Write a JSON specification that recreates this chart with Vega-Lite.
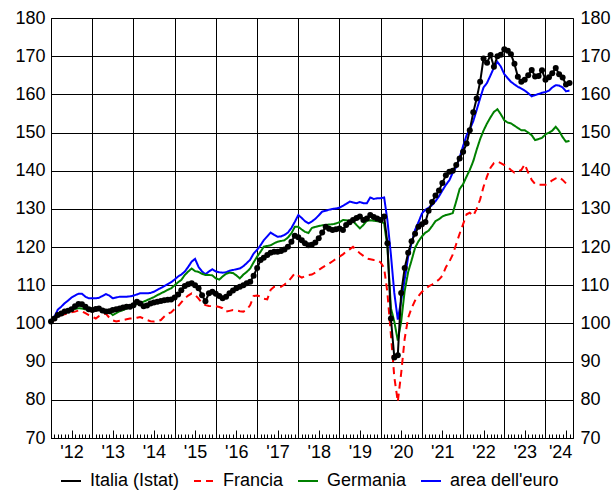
{
"$schema": "https://vega.github.io/schema/vega-lite/v6.json",
"width": 522, "height": 420,
"autosize": "none",
"padding": {"left": 51, "top": 18, "right": 43, "bottom": 55},
"background": "white",
"config": {
  "font": "Liberation Sans",
  "view": {"stroke": "black", "strokeWidth": 1},
  "axis": {"labelFont": "Liberation Sans", "labelFontSize": 18, "labelColor": "black", "domain": false, "gridColor": "black", "gridOpacity": 1, "gridWidth": 1, "tickColor": "black", "tickOpacity": 1, "tickWidth": 1}
},
"data": {"values": [
{"d":"2012-01","it":100.5,"fr":100.0,"de":100.3,"ea":100.0},
{"d":"2012-02","it":101.3,"fr":101.0,"de":101.5,"ea":101.8},
{"d":"2012-03","it":102.2,"fr":101.8,"de":102.5,"ea":103.6},
{"d":"2012-04","it":102.6,"fr":102.2,"de":102.8,"ea":104.4},
{"d":"2012-05","it":103.1,"fr":102.4,"de":103.2,"ea":105.3},
{"d":"2012-06","it":103.3,"fr":102.6,"de":103.5,"ea":106.0},
{"d":"2012-07","it":103.7,"fr":102.9,"de":103.6,"ea":106.8},
{"d":"2012-08","it":104.5,"fr":103.1,"de":103.8,"ea":107.3},
{"d":"2012-09","it":105.1,"fr":103.4,"de":104.0,"ea":107.8},
{"d":"2012-10","it":105.0,"fr":103.2,"de":103.9,"ea":107.8},
{"d":"2012-11","it":104.4,"fr":102.7,"de":103.7,"ea":107.0},
{"d":"2012-12","it":103.7,"fr":102.2,"de":103.5,"ea":106.6},
{"d":"2013-01","it":103.5,"fr":101.8,"de":103.5,"ea":106.6},
{"d":"2013-02","it":103.8,"fr":101.3,"de":103.6,"ea":106.6},
{"d":"2013-03","it":103.9,"fr":101.9,"de":103.7,"ea":106.7},
{"d":"2013-04","it":103.4,"fr":102.4,"de":103.5,"ea":107.2},
{"d":"2013-05","it":103.1,"fr":102.6,"de":103.3,"ea":107.7},
{"d":"2013-06","it":103.2,"fr":101.5,"de":103.1,"ea":107.3},
{"d":"2013-07","it":103.5,"fr":100.8,"de":102.2,"ea":106.6},
{"d":"2013-08","it":103.7,"fr":100.5,"de":102.7,"ea":106.8},
{"d":"2013-09","it":103.9,"fr":100.7,"de":103.2,"ea":107.0},
{"d":"2013-10","it":104.2,"fr":100.9,"de":103.5,"ea":107.0},
{"d":"2013-11","it":104.4,"fr":101.1,"de":103.9,"ea":107.0},
{"d":"2013-12","it":104.4,"fr":101.3,"de":104.3,"ea":107.1},
{"d":"2014-01","it":104.8,"fr":101.3,"de":104.8,"ea":107.3},
{"d":"2014-02","it":105.7,"fr":101.5,"de":105.1,"ea":107.6},
{"d":"2014-03","it":105.2,"fr":101.7,"de":105.4,"ea":107.9},
{"d":"2014-04","it":104.5,"fr":101.3,"de":105.7,"ea":107.9},
{"d":"2014-05","it":104.7,"fr":100.9,"de":106.1,"ea":107.9},
{"d":"2014-06","it":105.2,"fr":100.6,"de":106.5,"ea":108.0},
{"d":"2014-07","it":105.5,"fr":100.5,"de":106.9,"ea":108.3},
{"d":"2014-08","it":105.7,"fr":100.6,"de":107.4,"ea":108.8},
{"d":"2014-09","it":105.9,"fr":100.9,"de":107.9,"ea":109.3},
{"d":"2014-10","it":106.1,"fr":101.8,"de":108.3,"ea":109.8},
{"d":"2014-11","it":106.2,"fr":102.6,"de":108.8,"ea":110.3},
{"d":"2014-12","it":106.3,"fr":102.9,"de":109.2,"ea":110.8},
{"d":"2015-01","it":106.8,"fr":103.8,"de":110.0,"ea":111.5},
{"d":"2015-02","it":107.6,"fr":104.5,"de":110.8,"ea":112.3},
{"d":"2015-03","it":108.7,"fr":105.5,"de":111.4,"ea":112.8},
{"d":"2015-04","it":109.8,"fr":106.6,"de":112.7,"ea":113.6},
{"d":"2015-05","it":110.3,"fr":107.3,"de":113.6,"ea":114.8},
{"d":"2015-06","it":110.5,"fr":107.9,"de":114.4,"ea":116.2},
{"d":"2015-07","it":110.0,"fr":107.5,"de":113.7,"ea":116.9},
{"d":"2015-08","it":109.2,"fr":106.5,"de":113.5,"ea":114.8},
{"d":"2015-09","it":107.4,"fr":105.3,"de":113.0,"ea":113.6},
{"d":"2015-10","it":105.8,"fr":104.8,"de":112.7,"ea":112.9},
{"d":"2015-11","it":107.9,"fr":104.6,"de":112.7,"ea":113.6},
{"d":"2015-12","it":108.3,"fr":104.5,"de":112.6,"ea":114.2},
{"d":"2016-01","it":107.8,"fr":104.5,"de":111.8,"ea":113.6},
{"d":"2016-02","it":107.2,"fr":104.3,"de":111.5,"ea":113.4},
{"d":"2016-03","it":106.6,"fr":104.0,"de":112.3,"ea":113.3},
{"d":"2016-04","it":107.0,"fr":103.1,"de":113.0,"ea":113.4},
{"d":"2016-05","it":107.9,"fr":103.3,"de":113.3,"ea":113.8},
{"d":"2016-06","it":108.6,"fr":103.5,"de":113.2,"ea":114.0},
{"d":"2016-07","it":109.2,"fr":103.4,"de":112.6,"ea":114.2},
{"d":"2016-08","it":109.6,"fr":103.2,"de":111.8,"ea":114.4},
{"d":"2016-09","it":110.0,"fr":103.1,"de":112.8,"ea":115.0},
{"d":"2016-10","it":110.5,"fr":103.6,"de":113.5,"ea":115.8},
{"d":"2016-11","it":110.9,"fr":104.8,"de":114.4,"ea":116.7},
{"d":"2016-12","it":112.5,"fr":107.2,"de":116.0,"ea":118.3},
{"d":"2017-01","it":114.5,"fr":107.3,"de":117.5,"ea":119.3},
{"d":"2017-02","it":116.6,"fr":107.1,"de":118.8,"ea":120.5},
{"d":"2017-03","it":117.2,"fr":106.5,"de":120.1,"ea":121.8},
{"d":"2017-04","it":117.9,"fr":106.3,"de":120.3,"ea":122.8},
{"d":"2017-05","it":118.5,"fr":108.8,"de":120.5,"ea":123.8},
{"d":"2017-06","it":118.8,"fr":109.6,"de":121.0,"ea":123.2},
{"d":"2017-07","it":118.8,"fr":109.6,"de":121.4,"ea":122.7},
{"d":"2017-08","it":119.0,"fr":109.6,"de":121.6,"ea":122.8},
{"d":"2017-09","it":119.4,"fr":110.2,"de":121.8,"ea":123.2},
{"d":"2017-10","it":120.1,"fr":110.9,"de":122.5,"ea":123.8},
{"d":"2017-11","it":121.4,"fr":112.0,"de":123.6,"ea":125.0},
{"d":"2017-12","it":123.0,"fr":113.1,"de":125.3,"ea":126.6},
{"d":"2018-01","it":122.6,"fr":112.5,"de":125.3,"ea":128.4},
{"d":"2018-02","it":121.8,"fr":112.0,"de":124.6,"ea":127.6},
{"d":"2018-03","it":121.0,"fr":112.4,"de":124.0,"ea":126.8},
{"d":"2018-04","it":120.5,"fr":112.7,"de":123.7,"ea":126.2},
{"d":"2018-05","it":120.6,"fr":112.8,"de":125.0,"ea":126.7},
{"d":"2018-06","it":121.2,"fr":113.3,"de":125.3,"ea":127.4},
{"d":"2018-07","it":122.3,"fr":114.0,"de":125.5,"ea":128.3},
{"d":"2018-08","it":123.8,"fr":114.6,"de":125.7,"ea":129.3},
{"d":"2018-09","it":125.3,"fr":115.2,"de":125.8,"ea":129.5},
{"d":"2018-10","it":124.8,"fr":115.7,"de":125.9,"ea":129.8},
{"d":"2018-11","it":124.5,"fr":116.3,"de":126.0,"ea":130.0},
{"d":"2018-12","it":124.7,"fr":116.9,"de":126.2,"ea":130.1},
{"d":"2019-01","it":124.9,"fr":117.5,"de":126.5,"ea":130.3},
{"d":"2019-02","it":124.5,"fr":118.1,"de":127.1,"ea":130.8},
{"d":"2019-03","it":125.8,"fr":118.8,"de":127.0,"ea":131.3},
{"d":"2019-04","it":126.5,"fr":119.4,"de":126.9,"ea":131.9},
{"d":"2019-05","it":127.1,"fr":120.1,"de":126.8,"ea":131.7},
{"d":"2019-06","it":127.6,"fr":119.2,"de":125.8,"ea":131.5},
{"d":"2019-07","it":128.0,"fr":118.4,"de":124.9,"ea":131.8},
{"d":"2019-08","it":127.1,"fr":117.7,"de":125.8,"ea":131.5},
{"d":"2019-09","it":127.5,"fr":117.0,"de":126.9,"ea":131.5},
{"d":"2019-10","it":128.4,"fr":116.8,"de":127.0,"ea":133.0},
{"d":"2019-11","it":127.9,"fr":116.6,"de":126.9,"ea":132.6},
{"d":"2019-12","it":127.5,"fr":116.6,"de":126.8,"ea":132.8},
{"d":"2020-01","it":127.1,"fr":116.0,"de":126.8,"ea":132.8},
{"d":"2020-02","it":128.0,"fr":114.5,"de":126.2,"ea":133.0},
{"d":"2020-03","it":121.0,"fr":108.0,"de":120.0,"ea":127.0},
{"d":"2020-04","it":101.3,"fr":97.0,"de":104.0,"ea":118.0},
{"d":"2020-05","it":91.1,"fr":86.0,"de":100.5,"ea":108.0},
{"d":"2020-06","it":91.7,"fr":79.5,"de":95.5,"ea":101.0},
{"d":"2020-07","it":108.0,"fr":87.0,"de":100.5,"ea":106.0},
{"d":"2020-08","it":114.5,"fr":96.0,"de":108.5,"ea":111.5},
{"d":"2020-09","it":118.5,"fr":101.5,"de":113.5,"ea":117.5},
{"d":"2020-10","it":121.5,"fr":104.0,"de":116.5,"ea":121.0},
{"d":"2020-11","it":123.5,"fr":106.0,"de":119.8,"ea":124.5},
{"d":"2020-12","it":125.3,"fr":107.2,"de":121.5,"ea":126.5},
{"d":"2021-01","it":126.0,"fr":108.3,"de":122.8,"ea":128.8},
{"d":"2021-02","it":126.6,"fr":109.0,"de":123.8,"ea":129.8},
{"d":"2021-03","it":129.5,"fr":109.7,"de":124.3,"ea":130.3},
{"d":"2021-04","it":131.8,"fr":110.2,"de":125.5,"ea":131.0},
{"d":"2021-05","it":133.5,"fr":110.8,"de":126.8,"ea":132.0},
{"d":"2021-06","it":134.8,"fr":111.5,"de":127.3,"ea":133.3},
{"d":"2021-07","it":136.8,"fr":112.5,"de":128.0,"ea":134.8},
{"d":"2021-08","it":138.8,"fr":114.7,"de":128.4,"ea":136.3},
{"d":"2021-09","it":139.7,"fr":116.2,"de":128.6,"ea":137.5},
{"d":"2021-10","it":140.0,"fr":118.0,"de":128.9,"ea":139.5},
{"d":"2021-11","it":141.5,"fr":120.8,"de":132.0,"ea":141.0},
{"d":"2021-12","it":143.2,"fr":123.5,"de":135.2,"ea":143.5},
{"d":"2022-01","it":145.0,"fr":126.0,"de":136.5,"ea":146.5},
{"d":"2022-02","it":147.1,"fr":128.6,"de":138.5,"ea":149.3},
{"d":"2022-03","it":150.6,"fr":129.0,"de":140.2,"ea":150.8},
{"d":"2022-04","it":155.3,"fr":128.2,"de":142.5,"ea":153.0},
{"d":"2022-05","it":158.9,"fr":130.0,"de":145.5,"ea":155.9},
{"d":"2022-06","it":163.3,"fr":132.5,"de":148.3,"ea":159.0},
{"d":"2022-07","it":169.4,"fr":135.8,"de":150.5,"ea":161.8},
{"d":"2022-08","it":168.3,"fr":138.5,"de":152.4,"ea":163.0},
{"d":"2022-09","it":170.3,"fr":140.8,"de":154.0,"ea":165.0},
{"d":"2022-10","it":167.2,"fr":142.0,"de":155.4,"ea":167.0},
{"d":"2022-11","it":170.0,"fr":142.4,"de":156.1,"ea":168.5},
{"d":"2022-12","it":170.4,"fr":142.0,"de":154.8,"ea":167.3},
{"d":"2023-01","it":171.8,"fr":141.5,"de":153.2,"ea":165.3},
{"d":"2023-02","it":171.4,"fr":140.9,"de":152.6,"ea":164.2},
{"d":"2023-03","it":170.5,"fr":140.2,"de":152.4,"ea":163.3},
{"d":"2023-04","it":168.0,"fr":139.5,"de":151.8,"ea":162.6},
{"d":"2023-05","it":164.6,"fr":139.8,"de":151.2,"ea":162.0},
{"d":"2023-06","it":163.3,"fr":140.2,"de":150.6,"ea":161.5},
{"d":"2023-07","it":163.8,"fr":141.7,"de":150.6,"ea":161.0},
{"d":"2023-08","it":165.0,"fr":139.5,"de":150.0,"ea":160.3},
{"d":"2023-09","it":166.4,"fr":137.6,"de":149.3,"ea":159.5},
{"d":"2023-10","it":164.7,"fr":136.5,"de":148.0,"ea":159.8},
{"d":"2023-11","it":164.8,"fr":136.3,"de":148.3,"ea":160.1},
{"d":"2023-12","it":166.3,"fr":136.3,"de":148.6,"ea":160.4},
{"d":"2024-01","it":163.8,"fr":136.3,"de":149.5,"ea":160.6},
{"d":"2024-02","it":164.5,"fr":136.8,"de":150.0,"ea":161.0},
{"d":"2024-03","it":165.5,"fr":137.5,"de":150.5,"ea":161.8},
{"d":"2024-04","it":166.9,"fr":138.0,"de":151.5,"ea":162.4},
{"d":"2024-05","it":165.3,"fr":138.3,"de":150.4,"ea":162.3},
{"d":"2024-06","it":164.4,"fr":137.6,"de":148.8,"ea":161.8},
{"d":"2024-07","it":162.6,"fr":136.7,"de":147.6,"ea":160.8},
{"d":"2024-08","it":163.0,"de":147.8,"ea":161.0}
]},
"transform": [{"fold": ["ea", "de", "fr", "it"], "as": ["s", "v"]}],
"layer": [
  {
    "mark": {"type": "line", "strokeWidth": 2},
    "encoding": {
      "x": {"field": "d", "type": "temporal",
        "scale": {"type": "utc", "domain": [{"year": 2012, "month": 1, "date": 1, "utc": true}, {"year": 2024, "month": 9, "date": 1, "utc": true}]},
        "axis": {"orient": "bottom", "tickCount": {"interval": "year", "step": 1}, "grid": true, "labels": false, "ticks": false, "title": null}},
      "y": {"field": "v", "type": "quantitative",
        "scale": {"domain": [70, 180], "nice": false, "zero": false},
        "axis": {"orient": "left", "values": [70,80,90,100,110,120,130,140,150,160,170,180], "grid": true, "ticks": false, "labelPadding": 6, "title": null}},
      "color": {"field": "s", "type": "nominal",
        "scale": {"domain": ["it", "fr", "de", "ea"], "range": ["#000000", "#ff0000", "#008000", "#0000ff"]},
        "legend": {"orient": "none", "legendX": 9, "legendY": 452, "direction": "horizontal", "title": null,
          "symbolType": "stroke", "symbolSize": 400, "symbolStrokeWidth": 2,
          "labelFontSize": 18, "labelFont": "Liberation Sans", "labelColor": "black", "labelOffset": 8, "columnPadding": 10,
          "labelExpr": "datum.label == 'it' ? 'Italia (Istat)' : datum.label == 'fr' ? 'Francia' : datum.label == 'de' ? 'Germania' : 'area dell\\'euro'"}},
      "strokeDash": {"field": "s", "type": "nominal",
        "scale": {"domain": ["it", "fr", "de", "ea"], "range": [[1, 0], [7, 5], [1, 0], [1, 0]]},
        "legend": {"orient": "none", "legendX": 9, "legendY": 452, "direction": "horizontal", "title": null,
          "symbolType": "stroke", "symbolSize": 400, "symbolStrokeWidth": 2,
          "labelFontSize": 18, "labelFont": "Liberation Sans", "labelColor": "black", "labelOffset": 8, "columnPadding": 10,
          "labelExpr": "datum.label == 'it' ? 'Italia (Istat)' : datum.label == 'fr' ? 'Francia' : datum.label == 'de' ? 'Germania' : 'area dell\\'euro'"}}
    }
  },
  {
    "transform": [{"filter": "datum.s == 'it'"}],
    "mark": {"type": "point", "filled": true, "size": 36, "opacity": 1, "color": "black"},
    "encoding": {
      "x": {"field": "d", "type": "temporal",
        "axis": {"orient": "bottom", "tickCount": {"interval": "month", "step": 1}, "tickSize": -4, "grid": false, "labels": false, "title": null}},
      "y": {"field": "v", "type": "quantitative",
        "axis": {"orient": "right", "values": [70,80,90,100,110,120,130,140,150,160,170,180], "grid": false, "ticks": false, "labelPadding": 7, "title": null}}
    }
  },
  {
    "transform": [{"filter": "datum.s == 'it'"}],
    "mark": {"type": "point", "opacity": 0},
    "encoding": {
      "x": {"field": "d", "type": "temporal",
        "axis": {"orient": "bottom", "tickCount": {"interval": "month", "step": 6}, "tickSize": -8, "grid": false, "labels": false, "title": null}},
      "y": {"field": "v", "type": "quantitative", "axis": null}
    }
  },
  {
    "transform": [{"filter": "datum.s == 'it'"}],
    "mark": {"type": "point", "opacity": 0},
    "encoding": {
      "x": {"field": "d", "type": "temporal",
        "axis": {"orient": "bottom", "values": [
          {"year": 2012, "month": 7, "date": 1, "utc": true},
          {"year": 2013, "month": 7, "date": 1, "utc": true},
          {"year": 2014, "month": 7, "date": 1, "utc": true},
          {"year": 2015, "month": 7, "date": 1, "utc": true},
          {"year": 2016, "month": 7, "date": 1, "utc": true},
          {"year": 2017, "month": 7, "date": 1, "utc": true},
          {"year": 2018, "month": 7, "date": 1, "utc": true},
          {"year": 2019, "month": 7, "date": 1, "utc": true},
          {"year": 2020, "month": 7, "date": 1, "utc": true},
          {"year": 2021, "month": 7, "date": 1, "utc": true},
          {"year": 2022, "month": 7, "date": 1, "utc": true},
          {"year": 2023, "month": 7, "date": 1, "utc": true},
          {"year": 2024, "month": 5, "date": 10, "utc": true}],
          "ticks": false, "tickSize": 0, "grid": false, "labelPadding": 5, "labelFlush": false, "labelOverlap": false,
          "labelExpr": "\"'\" + utcFormat(datum.value, '%y')", "title": null}},
      "y": {"field": "v", "type": "quantitative", "axis": null}
    }
  }
],
"resolve": {"axis": {"x": "independent", "y": "independent"}}
}
